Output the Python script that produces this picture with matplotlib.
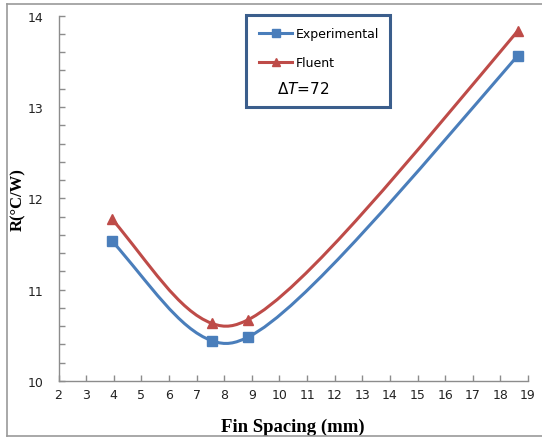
import numpy as np
import matplotlib.pyplot as plt
from matplotlib.path import Path
from matplotlib.patches import PathPatch, Rectangle
from matplotlib.lines import Line2D
from matplotlib.ticker import MultipleLocator

# data
spacing = [3.95, 7.56, 8.86, 18.62]
r_exp = [11.53, 10.44, 10.48, 13.56]
r_fluent = [11.77, 10.63, 10.67, 13.83]
blue = '#4A7EBB'
red = '#BE4B48'

W, H = 542, 439
fig = plt.figure(figsize=(W / 100, H / 100), dpi=100)
left, right, bottom, top = 58.5 / W, 528 / W, 1 - 382 / H, 1 - 16.7 / H
ax = fig.add_axes([left, bottom, right - left, top - bottom])
ax.set_xlim(2, 19)
ax.set_ylim(10, 14)

# pixels per data unit, so the smoothing is done in screen space like Excel
sx = (right - left) * W / 17
sy = (top - bottom) * H / 4


def unit(v):
    return v / np.hypot(*v)


def smooth_path(xs, ys, k=0.4, end_bend=0.15):
    p = np.column_stack([np.array(xs) * sx, np.array(ys) * sy])
    n = len(p)
    seg = [np.hypot(*(p[i + 1] - p[i])) for i in range(n - 1)]
    chords = [unit(p[i + 1] - p[i]) for i in range(n - 1)]
    dirs = [None] * n
    for i in range(1, n - 1):
        dirs[i] = unit(chords[i - 1] + chords[i])
    dirs[0] = unit(chords[0] + (chords[0] - dirs[1]) * end_bend)
    dirs[-1] = unit(chords[-1] + (chords[-1] - dirs[-2]) * end_bend)
    verts = [p[0]]
    codes = [Path.MOVETO]
    for i in range(n - 1):
        L = seg[i]
        a = k * L if i == 0 else min(0.5 * np.sqrt(seg[i - 1] * L), k * L)
        b = k * L if i == n - 2 else min(0.5 * np.sqrt(seg[i + 1] * L), k * L)
        verts += [p[i] + dirs[i] * a, p[i + 1] - dirs[i + 1] * b, p[i + 1]]
        codes += [Path.CURVE4] * 3
    verts = np.array(verts) / [sx, sy]
    return Path(verts, codes)


ax.add_patch(PathPatch(smooth_path(spacing, r_exp), fill=False, ec=blue, lw=2.2, zorder=2))
ax.add_patch(PathPatch(smooth_path(spacing, r_fluent), fill=False, ec=red, lw=2.2, zorder=2))
ax.plot(spacing, r_exp, ls='none', marker='s', ms=6.5, color=blue, zorder=3)
ax.plot(spacing, r_fluent, ls='none', marker='^', ms=7, color=red, zorder=3)

for s in ['top', 'right']:
    ax.spines[s].set_visible(False)
for s in ['left', 'bottom']:
    ax.spines[s].set_color('#8c8c8c')
    ax.spines[s].set_linewidth(1)

ax.xaxis.set_major_locator(MultipleLocator(1))
ax.yaxis.set_major_locator(MultipleLocator(1))
ax.yaxis.set_minor_locator(MultipleLocator(0.2))
ax.tick_params(axis='both', which='both', direction='in', length=4, width=1,
               color='#8c8c8c', labelsize=9, labelcolor='#222222')
ax.tick_params(axis='y', pad=10.5)
ax.tick_params(axis='x', pad=5)

ax.set_xlabel('Fin Spacing (mm)', family='Liberation Serif', weight='bold', fontsize=13.5, labelpad=12)
ax.set_ylabel('R(°C/W)', family='Liberation Serif', weight='bold', fontsize=12, labelpad=1)

# legend box with the delta T note
fig.add_artist(Rectangle((246 / W, 1 - 107.5 / H), 144 / W, 91.5 / H, transform=fig.transFigure,
                         fill=True, fc='white', ec='#3B5E8C', lw=2.2, zorder=5))
handles = [Line2D([], [], color=blue, lw=2.2, marker='s', ms=5.5),
           Line2D([], [], color=red, lw=2.2, marker='^', ms=5.5)]
leg = fig.legend(handles, ['Experimental', 'Fluent'], loc='upper left',
                 bbox_to_anchor=(253 / W, 1 - 22 / H), frameon=False, fontsize=9,
                 handlelength=2.6, handletextpad=0.3, labelspacing=1.25, borderpad=0)
leg.set_zorder(6)
fig.text(277 / W, 1 - 89 / H, r'$\Delta T$=72', fontsize=11, va='center', ha='left', zorder=7)

# outer chart border
for xs, ys in [([7 / W, 7 / W], [0.004, 1 - 5 / H]), ([7 / W, 1], [1 - 5 / H, 1 - 5 / H]),
               ([7 / W, 1], [0.004, 0.004])]:
    fig.add_artist(Line2D(xs, ys, color='#9a9a9a', lw=1.2, transform=fig.transFigure))

fig.savefig('out.png', dpi=100)
